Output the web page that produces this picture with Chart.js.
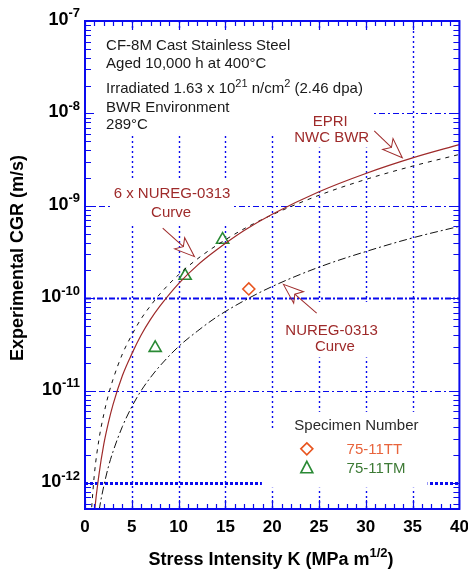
<!DOCTYPE html>
<html>
<head>
<meta charset="utf-8">
<script src="https://cdn.jsdelivr.net/npm/chart.js@4.4.0/dist/chart.umd.min.js"></script>
<style>
html, body { margin: 0; padding: 0; background: #fff; }
#cgr { display: block; }
</style>
</head>
<body>
<canvas id="cgr" width="468" height="571"></canvas>
<script>
const curveK = [0.5, 1, 1.5, 2, 2.5, 3, 4, 5, 6, 7, 8, 10, 12, 14, 17, 20, 25, 30, 35, 40];
// CGR (m/s) of each curve at those K
const epriNwc = [8.0e-14, 4.6e-13, 1.25e-12, 2.6e-12, 4.5e-12, 7.1e-12, 1.46e-11, 2.5e-11, 4.0e-11, 5.9e-11,
  8.2e-11, 1.44e-10, 2.27e-10, 3.3e-10, 5.4e-10, 8.1e-10, 1.42e-9, 2.24e-9, 3.3e-9, 4.6e-9];
const nureg6x = [2.8e-13, 1.24e-12, 3.0e-12, 5.5e-12, 9.0e-12, 1.33e-11, 2.5e-11, 4.0e-11, 6.0e-11, 8.3e-11,
  1.11e-10, 1.8e-10, 2.66e-10, 3.7e-10, 5.65e-10, 8.0e-10, 1.3e-9, 1.93e-9, 2.69e-9, 3.6e-9];
const nureg = [4.7e-14, 2.07e-13, 5.0e-13, 9.2e-13, 1.5e-12, 2.2e-12, 4.1e-12, 6.7e-12, 1.0e-11, 1.39e-11,
  1.85e-11, 3.0e-11, 4.4e-11, 6.2e-11, 9.4e-11, 1.34e-10, 2.17e-10, 3.2e-10, 4.5e-10, 6.0e-10];

// measured specimens
const ttK = [17.5];
const ttCGR = [1.26e-10];
const tmK = [7.5, 10.7, 14.7];
const tmCGR = [2.9e-11, 1.75e-10, 4.3e-10];

// axes
const xTicks = [0, 5, 10, 15, 20, 25, 30, 35, 40];
const yExponents = [-12, -11, -10, -9, -8, -7];
const yMin = 5.24e-13;
const yMax = 1e-7;

const BLUE = '#0a0aee';
const RED = '#9e2a2a';
const FONT = 'Arial, "Liberation Sans", Helvetica, sans-serif';

const toXY = (xs, ys) => xs.map((v, i) => ({ x: v, y: ys[i] }));

// text with superscripts: parts = [[text, isSup], ...]
function richText(ctx, parts, x, y, align, size, bold, color) {
    const w = bold ? 'bold ' : '';
    const supSize = Math.round(size * 0.72);
    let total = 0;
    parts.forEach(([t, sup]) => {
        ctx.font = w + (sup ? supSize : size) + 'px ' + FONT;
        total += ctx.measureText(t).width;
    });
    let cx = align === 'center' ? x - total / 2 : align === 'right' ? x - total : x;
    ctx.fillStyle = color;
    ctx.textAlign = 'left';
    ctx.textBaseline = 'alphabetic';
    parts.forEach(([t, sup]) => {
        ctx.font = w + (sup ? supSize : size) + 'px ' + FONT;
        ctx.fillText(t, cx, sup ? y - size * 0.42 : y);
        cx += ctx.measureText(t).width;
    });
}

function hollowArrow(ctx, x0, y0, x1, y1) {
    const ang = Math.atan2(y1 - y0, x1 - x0);
    const len = Math.hypot(x1 - x0, y1 - y0);
    const headL = 20, headW = 7.5, notch = 5;
    ctx.save();
    ctx.translate(x1, y1);
    ctx.rotate(ang);
    ctx.strokeStyle = RED;
    ctx.lineWidth = 1;
    ctx.setLineDash([]);
    ctx.beginPath();
    ctx.moveTo(-len, 0);
    ctx.lineTo(-headL + notch, 0);
    ctx.stroke();
    ctx.beginPath();
    ctx.moveTo(0, 0);
    ctx.lineTo(-headL, -headW);
    ctx.lineTo(-headL + notch, 0);
    ctx.lineTo(-headL, headW);
    ctx.closePath();
    ctx.stroke();
    ctx.restore();
}

const decor = {
    id: 'decor',
    beforeDatasetsDraw(chart) {
        const { ctx, chartArea: a, scales: { x, y } } = chart;
        const P = (k, lg) => [x.getPixelForValue(k), y.getPixelForValue(Math.pow(10, lg))];
        ctx.save();
        ctx.strokeStyle = BLUE;
        // vertical grid
        ctx.lineWidth = 1.4;
        ctx.setLineDash([2, 3]);
        xTicks.slice(1, -1).forEach(k => {
            const px = Math.round(x.getPixelForValue(k)) + 0.5;
            ctx.beginPath();
            ctx.moveTo(px, a.top);
            ctx.lineTo(px, a.bottom);
            ctx.stroke();
        });
        // horizontal grid at decades
        yExponents.slice(0, -1).forEach(e => {
            const py = Math.round(y.getPixelForValue(Math.pow(10, e))) + 0.5;
            if (e === -12) {
                ctx.lineWidth = 3;
                ctx.setLineDash([3, 2]);
            } else if (e === -10) {
                ctx.lineWidth = 2.2;
                ctx.setLineDash([6, 2, 2, 2]);
            } else {
                ctx.lineWidth = 1.2;
                ctx.setLineDash([6, 3, 2, 3]);
            }
            ctx.beginPath();
            ctx.moveTo(a.left, py);
            ctx.lineTo(a.right, py);
            ctx.stroke();
        });
        // blank the grid behind the text blocks
        ctx.fillStyle = '#fff';
        const boxes = [
            [0.3, 30.4, -7.10, -8.23],
            [21.3, 30.6, -7.94, -8.37],
            [2.7, 15.8, -8.72, -9.21],
            [21.5, 32, -10.04, -10.64],
            [22.1, 36.5, -11.23, -11.50],
            [18.9, 36.6, -11.43, -12.05]
        ];
        boxes.forEach(([k0, k1, l0, l1]) => {
            const [x0, y0] = P(k0, l0);
            const [x1, y1] = P(k1, l1);
            ctx.fillRect(x0, y0, x1 - x0, y1 - y0);
        });
        ctx.restore();
    },
    afterDatasetsDraw(chart) {
        const { ctx, chartArea: a, scales: { x, y } } = chart;
        const P = (k, lg) => [x.getPixelForValue(k), y.getPixelForValue(Math.pow(10, lg))];
        ctx.save();
        // frame
        ctx.setLineDash([]);
        ctx.strokeStyle = BLUE;
        ctx.lineWidth = 2;
        ctx.strokeRect(a.left, a.top, a.right - a.left, a.bottom - a.top);
        // inward ticks
        ctx.lineWidth = 1.2;
        ctx.beginPath();
        for (let k = 0; k <= 40; k++) {
            const px = Math.round(x.getPixelForValue(k)) + 0.5;
            const len = k % 5 === 0 ? 9 : 5;
            ctx.moveTo(px, a.bottom); ctx.lineTo(px, a.bottom - len);
            ctx.moveTo(px, a.top); ctx.lineTo(px, a.top + len);
        }
        for (let e = -13; e <= -7; e++) {
            for (let m = 1; m <= 9; m++) {
                const v = m * Math.pow(10, e);
                if (v < yMin || v > yMax * 1.0001) continue;
                const py = Math.round(y.getPixelForValue(v)) + 0.5;
                const len = m === 1 ? 9 : 6;
                ctx.moveTo(a.left, py); ctx.lineTo(a.left + len, py);
                ctx.moveTo(a.right, py); ctx.lineTo(a.right - len, py);
            }
        }
        ctx.stroke();

        // tick labels
        ctx.fillStyle = '#000';
        ctx.font = 'bold 17px ' + FONT;
        ctx.textAlign = 'center';
        ctx.textBaseline = 'alphabetic';
        xTicks.forEach(k => ctx.fillText(String(k), x.getPixelForValue(k), a.bottom + 23));
        yExponents.forEach(e => {
            const py = y.getPixelForValue(Math.pow(10, e));
            richText(ctx, [['10', false], [String(e), true]], a.left - 5, py + 4, 'right', 18, true, '#000');
        });

        // axis titles
        richText(ctx, [['Stress Intensity K (MPa m', false], ['1/2', true], [')', false]],
            271, 565, 'center', 18, true, '#000');
        ctx.save();
        ctx.translate(23, 258);
        ctx.rotate(-Math.PI / 2);
        ctx.font = 'bold 18px ' + FONT;
        ctx.textAlign = 'center';
        ctx.fillStyle = '#000';
        ctx.fillText('Experimental CGR (m/s)', 0, 0);
        ctx.restore();

        // material / test conditions
        const ink = '#1a1a1a';
        let [tx, ty] = P(2.25, -7.26);
        richText(ctx, [['CF-8M Cast Stainless Steel', false]], tx, ty + 5, 'left', 15, false, ink);
        [tx, ty] = P(2.25, -7.455);
        richText(ctx, [['Aged 10,000 h at 400°C', false]], tx, ty + 5, 'left', 15, false, ink);
        [tx, ty] = P(2.25, -7.725);
        richText(ctx, [['Irradiated 1.63 x 10', false], ['21', true], [' n/cm', false], ['2', true], [' (2.46 dpa)', false]],
            tx, ty + 5, 'left', 15, false, ink);
        [tx, ty] = P(2.25, -7.93);
        richText(ctx, [['BWR Environment', false]], tx, ty + 5, 'left', 15, false, ink);
        [tx, ty] = P(2.25, -8.115);
        richText(ctx, [['289°C', false]], tx, ty + 5, 'left', 15, false, ink);

        // curve labels
        const lab = (t, k, lg) => {
            const [px, py] = P(k, lg);
            richText(ctx, [[t, false]], px, py + 5, 'center', 15, false, RED);
        };
        lab('EPRI', 26.2, -8.08);
        lab('NWC BWR', 26.35, -8.255);
        lab('6 x NUREG-0313', 9.3, -8.86);
        lab('Curve', 9.2, -9.07);
        lab('NUREG-0313', 26.35, -10.345);
        lab('Curve', 26.7, -10.52);

        const arrow = (k0, l0, k1, l1) => {
            const [x0, y0] = P(k0, l0);
            const [x1, y1] = P(k1, l1);
            hollowArrow(ctx, x0, y0, x1, y1);
        };
        arrow(30.9, -8.19, 33.9, -8.48);
        arrow(8.3, -9.24, 11.7, -9.55);
        arrow(24.75, -10.16, 21.2, -9.85);

        // specimen legend
        let [lx, ly] = P(29.0, -11.37);
        richText(ctx, [['Specimen Number', false]], lx, ly + 5, 'center', 15, false, '#2a2a2a');
        ctx.lineWidth = 1.6;
        [lx, ly] = P(23.7, -11.63);
        ctx.strokeStyle = '#e8541e';
        ctx.beginPath();
        ctx.moveTo(lx, ly - 6); ctx.lineTo(lx + 6, ly); ctx.lineTo(lx, ly + 6); ctx.lineTo(lx - 6, ly);
        ctx.closePath();
        ctx.stroke();
        let [ttx] = P(27.95, 0);
        richText(ctx, [['75-11TT', false]], ttx, ly + 5, 'left', 15, false, '#e8643c');
        [lx, ly] = P(23.7, -11.84);
        ctx.strokeStyle = '#2a8a35';
        ctx.beginPath();
        ctx.moveTo(lx, ly - 7); ctx.lineTo(lx + 6, ly + 4.5); ctx.lineTo(lx - 6, ly + 4.5);
        ctx.closePath();
        ctx.stroke();
        richText(ctx, [['75-11TM', false]], ttx, ly + 5, 'left', 15, false, '#3d7a35');
        ctx.restore();
    }
};

new Chart(document.getElementById('cgr'), {
    type: 'scatter',
    data: {
        datasets: [
            {
                label: 'EPRI NWC BWR',
                type: 'line',
                data: toXY(curveK, epriNwc),
                borderColor: RED,
                borderWidth: 1.2,
                pointRadius: 0,
                cubicInterpolationMode: 'monotone',
                fill: false
            },
            {
                label: '6 x NUREG-0313',
                type: 'line',
                data: toXY(curveK, nureg6x),
                borderColor: '#111',
                borderWidth: 1,
                borderDash: [4, 5],
                pointRadius: 0,
                cubicInterpolationMode: 'monotone',
                fill: false
            },
            {
                label: 'NUREG-0313',
                type: 'line',
                data: toXY(curveK, nureg),
                borderColor: '#111',
                borderWidth: 1,
                borderDash: [8, 3, 2, 3],
                pointRadius: 0,
                cubicInterpolationMode: 'monotone',
                fill: false
            },
            {
                label: '75-11TT',
                data: toXY(ttK, ttCGR),
                pointStyle: 'rectRot',
                pointRadius: 6,
                pointBorderWidth: 1.6,
                borderColor: '#e8541e',
                backgroundColor: 'rgba(0,0,0,0)'
            },
            {
                label: '75-11TM',
                data: toXY(tmK, tmCGR),
                pointStyle: 'triangle',
                pointRadius: 7,
                pointBorderWidth: 1.6,
                borderColor: '#2a8a35',
                backgroundColor: 'rgba(0,0,0,0)'
            }
        ]
    },
    options: {
        responsive: false,
        animation: false,
        events: [],
        layout: { padding: { top: 21, right: 8, left: 0, bottom: 0 } },
        plugins: {
            legend: { display: false },
            tooltip: { enabled: false }
        },
        scales: {
            x: {
                type: 'linear',
                min: 0,
                max: 40,
                grid: { display: false },
                border: { display: false },
                ticks: { display: false },
                afterFit: s => { s.height = 62; }
            },
            y: {
                type: 'logarithmic',
                min: yMin,
                max: yMax,
                grid: { display: false },
                border: { display: false },
                ticks: { display: false },
                afterFit: s => { s.width = 85; }
            }
        }
    },
    plugins: [decor]
});
</script>
</body>
</html>
